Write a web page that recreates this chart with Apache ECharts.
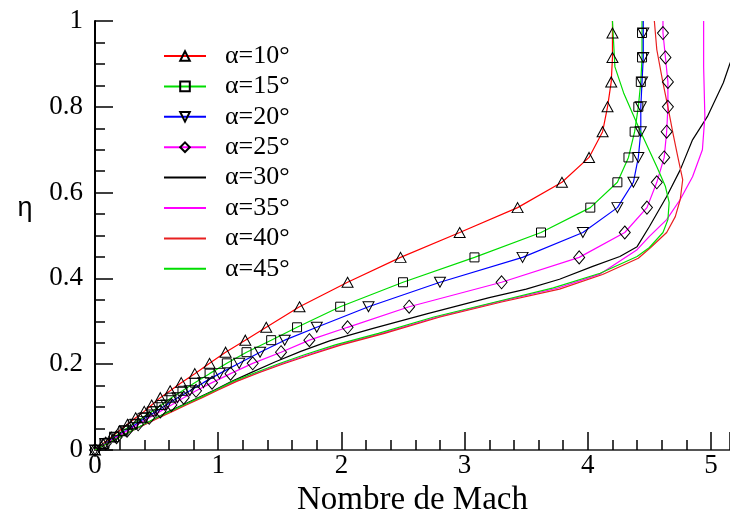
<!DOCTYPE html>
<html><head><meta charset="utf-8">
<script src="https://cdn.jsdelivr.net/npm/echarts@6/dist/echarts.min.js"></script>
<style>html,body{margin:0;padding:0;background:#fff}#c{width:730px;height:514px}</style>
</head><body><div id="c"></div>
<script>
// tick values
const xTicks = [0, 1, 2, 3, 4, 5];
const yTicks = [0, 0.2, 0.4, 0.6, 0.8, 1];
const legendNames = ['α=10°','α=15°','α=20°','α=25°','α=30°','α=35°','α=40°','α=45°'];

// common eta grid for the series drawn with markers
const eta = [0, 0.015, 0.03, 0.045, 0.06, 0.075, 0.09, 0.105, 0.122, 0.138, 0.157, 0.178, 0.202, 0.228, 0.256, 0.286, 0.334, 0.391, 0.449, 0.507, 0.565, 0.624, 0.682, 0.742, 0.800, 0.858, 0.915, 0.972, 1.0];
const mach10 = [0, 0.066, 0.132, 0.198, 0.264, 0.33, 0.40, 0.46, 0.53, 0.61, 0.70, 0.81, 0.93, 1.06, 1.22, 1.39, 1.66, 2.05, 2.48, 2.96, 3.43, 3.79, 4.01, 4.12, 4.16, 4.19, 4.20, 4.20, 4.20];
const mach15 = [0, 0.077, 0.154, 0.23, 0.307, 0.385, 0.46, 0.54, 0.62, 0.71, 0.81, 0.93, 1.07, 1.23, 1.43, 1.64, 1.99, 2.50, 3.08, 3.62, 4.02, 4.24, 4.33, 4.38, 4.41, 4.43, 4.44, 4.44, 4.44];
const mach20 = [0, 0.083, 0.165, 0.25, 0.33, 0.41, 0.495, 0.58, 0.67, 0.77, 0.88, 1.01, 1.17, 1.34, 1.54, 1.80, 2.22, 2.80, 3.47, 3.96, 4.24, 4.37, 4.41, 4.43, 4.43, 4.44, 4.45, 4.45, 4.45];
const mach25 = [0, 0.087, 0.175, 0.26, 0.35, 0.44, 0.53, 0.62, 0.72, 0.82, 0.95, 1.10, 1.28, 1.51, 1.74, 2.05, 2.55, 3.30, 3.93, 4.30, 4.48, 4.56, 4.62, 4.64, 4.65, 4.65, 4.63, 4.61, 4.61];

// series without markers, own (mach, eta) pairs
const mach30 = [0, 0.1, 0.2, 0.3, 0.4, 0.5, 0.6, 0.71, 0.84, 0.97, 1.11, 1.28, 1.46, 1.67, 1.91, 2.25, 2.7, 3.2, 3.5, 3.77, 4.04, 4.26, 4.4, 4.5, 4.64, 4.75, 4.85, 4.97, 5.1, 5.15, 5.22, 5.28];
const eta30  = [0, 0.015, 0.03, 0.045, 0.06, 0.075, 0.09, 0.105, 0.122, 0.14, 0.16, 0.182, 0.205, 0.23, 0.255, 0.283, 0.318, 0.355, 0.375, 0.398, 0.428, 0.451, 0.474, 0.521, 0.591, 0.653, 0.723, 0.777, 0.856, 0.898, 0.95, 1.0];
const mach35 = [0, 0.1, 0.2, 0.3, 0.41, 0.51, 0.62, 0.73, 0.86, 0.99, 1.14, 1.32, 1.5, 1.73, 1.98, 2.33, 2.78, 3.28, 3.75, 4.1, 4.4, 4.5, 4.64, 4.75, 4.85, 4.93, 4.95, 4.94, 4.94];
const eta35  = [0, 0.015, 0.03, 0.045, 0.06, 0.075, 0.09, 0.105, 0.122, 0.14, 0.16, 0.18, 0.2, 0.222, 0.245, 0.272, 0.31, 0.346, 0.377, 0.41, 0.467, 0.498, 0.537, 0.584, 0.637, 0.7, 0.777, 0.893, 1.0];
const mach40 = [0, 0.1, 0.2, 0.3, 0.41, 0.52, 0.63, 0.74, 0.87, 1.0, 1.15, 1.33, 1.52, 1.75, 2.0, 2.35, 2.8, 3.3, 3.77, 4.12, 4.41, 4.51, 4.64, 4.71, 4.75, 4.77, 4.73, 4.69, 4.65, 4.61, 4.56, 4.54];
const eta40  = [0, 0.015, 0.03, 0.045, 0.06, 0.075, 0.09, 0.105, 0.122, 0.14, 0.16, 0.18, 0.2, 0.222, 0.245, 0.272, 0.31, 0.345, 0.375, 0.409, 0.447, 0.472, 0.507, 0.544, 0.584, 0.63, 0.684, 0.74, 0.80, 0.856, 0.933, 1.0];
const mach45 = [0, 0.1, 0.2, 0.3, 0.4, 0.5, 0.61, 0.72, 0.85, 0.98, 1.12, 1.3, 1.48, 1.7, 1.95, 2.3, 2.75, 3.25, 3.72, 4.1, 4.4, 4.5, 4.61, 4.65, 4.66, 4.63, 4.56, 4.42, 4.29, 4.22, 4.2];
const eta45  = [0, 0.015, 0.03, 0.045, 0.06, 0.075, 0.09, 0.105, 0.122, 0.14, 0.16, 0.18, 0.2, 0.222, 0.245, 0.272, 0.31, 0.345, 0.378, 0.412, 0.451, 0.472, 0.507, 0.537, 0.577, 0.614, 0.66, 0.747, 0.833, 0.893, 1.0];

const SERIF = '"Liberation Serif", "Times New Roman", serif';

function markerData(m) {
  return m.map((v, i) => i === m.length - 1 ? {value: [v, eta[i]], symbol: 'none'} : [v, eta[i]]);
}
function pairs(m, e) { return m.map((v, i) => [v, e[i]]); }

const hollow = {color: 'rgba(0,0,0,0)', borderColor: '#000', borderWidth: 1};

const defs = [
  {data: markerData(mach10), color: '#ff0000', symbol: 'triangle', symbolSize: [11, 10]},
  {data: markerData(mach15), color: '#00dd00', symbol: 'rect', symbolSize: [9, 9]},
  {data: markerData(mach20), color: '#0000ff', symbol: 'triangle', symbolSize: [11, 10], symbolRotate: 180},
  {data: markerData(mach25), color: '#ff00ff', symbol: 'diamond', symbolSize: [11, 13]},
  {data: pairs(mach30, eta30), color: '#000000'},
  {data: pairs(mach35, eta35), color: '#ff00ff'},
  {data: pairs(mach40, eta40), color: '#e82020'},
  {data: pairs(mach45, eta45), color: '#00dd00'}
];
const series = defs.map((s, i) => ({
  type: 'line',
  name: legendNames[i],
  data: s.data,
  showAllSymbol: true,
  symbol: s.symbol || 'none',
  symbolSize: s.symbolSize || 0,
  symbolRotate: s.symbolRotate || 0,
  lineStyle: {color: s.color, width: 1.2},
  itemStyle: s.symbol ? hollow : {color: s.color},
  emphasis: {disabled: true},
  z: 2
}));
const legendData = defs.map((s, i) => s.symbol ? {name: legendNames[i]}
  : {name: legendNames[i], itemStyle: {opacity: 0, color: 'rgba(0,0,0,0)', borderWidth: 0}});

const chart = echarts.init(document.getElementById('c'), null, {renderer: 'canvas'});
chart.setOption({
  animation: false,
  backgroundColor: '#fff',
  grid: {left: 95, right: 0, top: 21, bottom: 64, containLabel: false, outerBoundsMode: 'none'},
  legend: {
    orient: 'vertical', left: 158, top: 36,
    itemWidth: 42, itemHeight: 12, itemGap: 0.4,
    data: legendData,
    textStyle: {fontFamily: SERIF, fontSize: 26, color: '#000', lineHeight: 30, padding: [0, 0, 0, 14]},
    lineStyle: {width: 2}
  },
  graphic: [{
    type: 'text', x: 25, y: 209,
    style: {text: 'η', font: '27px "Liberation Sans", Arial, sans-serif', fill: '#000',
      align: 'center', verticalAlign: 'middle'}
  }],
  xAxis: [{
    type: 'value', min: 0, max: 5.154, interval: 1,
    name: 'Nombre de Mach', nameLocation: 'middle', nameGap: 29,
    nameTextStyle: {fontFamily: SERIF, fontSize: 33, color: '#000'},
    axisLine: {show: true, onZero: false, lineStyle: {color: '#000', width: 2}},
    axisTick: {show: true, inside: true, length: 18, lineStyle: {color: '#000', width: 1.5}},
    minorTick: {show: true, splitNumber: 5, length: 10, lineStyle: {color: '#000', width: 1.5}},
    axisLabel: {fontFamily: SERIF, fontSize: 27, color: '#000', margin: 2, showMaxLabel: false,
      formatter: v => xTicks.indexOf(v) >= 0 ? String(v) : ''},
    splitLine: {show: false}
  }, {
    type: 'value', position: 'top', min: 0, max: 5.154,
    axisLine: {show: true, lineStyle: {color: '#555', width: 2}},
    axisTick: {show: false}, axisLabel: {show: false}, splitLine: {show: false}
  }],
  yAxis: {
    type: 'value', min: 0, max: 1, interval: 0.2,
    axisLine: {show: true, onZero: false, lineStyle: {color: '#000', width: 2}},
    axisTick: {show: true, inside: true, length: 18, lineStyle: {color: '#000', width: 1.5}},
    minorTick: {show: true, splitNumber: 4, length: 10, lineStyle: {color: '#000', width: 1.5}},
    axisLabel: {fontFamily: SERIF, fontSize: 27, color: '#000', margin: 12,
      formatter: v => yTicks.indexOf(v) >= 0 ? String(v) : ''},
    splitLine: {show: false}
  },
  series: series
});
</script>
</body></html>
